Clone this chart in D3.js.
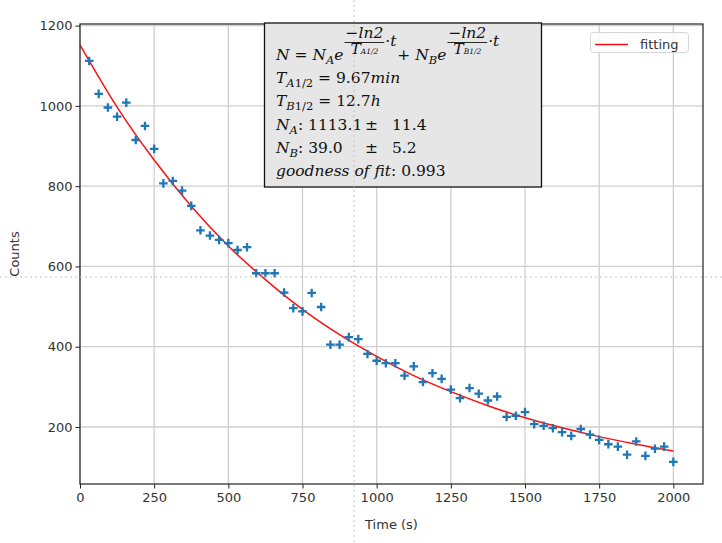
<!DOCTYPE html>
<html>
<head>
<meta charset="utf-8">
<script src="https://cdn.jsdelivr.net/npm/d3@7"></script>
<style>
    body { margin: 0; background: #fff; }
    svg { display: block; }
    .axis text { font-family: 'DejaVu Sans', sans-serif; font-size: 13px; fill: #333; }
    .axis line { stroke: #222; }
    .axis-title { font-family: 'DejaVu Sans', sans-serif; font-size: 13px; fill: #333; }
    .box-text { font-family: 'DejaVu Serif', serif; font-size: 15.5px; fill: #111; }
</style>
</head>
<body>
<div id="chart"></div>
<script>
// measured points (time in s, counts)
const times = [31, 63, 94, 125, 156, 188, 219, 250, 281, 313, 344, 375, 406, 438, 469, 500,
    531, 563, 594, 625, 656, 688, 719, 750, 781, 813, 844, 875, 906, 938, 969, 1000,
    1031, 1063, 1094, 1125, 1156, 1188, 1219, 1250, 1281, 1313, 1344, 1375, 1406, 1438, 1469, 1500,
    1531, 1563, 1594, 1625, 1656, 1688, 1719, 1750, 1781, 1813, 1844, 1875, 1906, 1938, 1969, 2000];
const counts = [1112, 1030, 996, 973, 1008, 915, 950, 893, 807, 813, 789, 751, 690, 677, 666, 658,
    641, 648, 583, 583, 583, 535, 496, 488, 534, 499, 405, 405, 424, 419, 382, 365,
    359, 359, 328, 351, 312, 334, 320, 293, 272, 297, 283, 266, 276, 225, 228, 237,
    207, 203, 197, 187, 178, 195, 181, 168, 157, 151, 131, 164, 128, 146, 151, 113];

// fitted curve
const fitTimes = [0, 125, 250, 375, 500, 625, 750, 875, 1000, 1125, 1250, 1375, 1500, 1625, 1750, 1875, 2000];
const fitCounts = [1152, 997, 865, 750, 651, 567, 493, 430, 376, 328, 288, 253, 223, 198, 176, 157, 140];

const xTicks = [0, 250, 500, 750, 1000, 1250, 1500, 1750, 2000];
const yTicks = [200, 400, 600, 800, 1000, 1200];

const width = 722;
const height = 543;
const margin = {top: 24, right: 19, bottom: 59, left: 80};

const svg = d3.select('#chart').append('svg')
    .attr('width', width)
    .attr('height', height);

const xScale = d3.scaleLinear()
    .domain([0, 2100])
    .range([margin.left, width - margin.right]);

const yScale = d3.scaleLinear()
    .domain([58, 1204])
    .range([height - margin.bottom, margin.top]);

// grid
const grid = svg.append('g');
grid.selectAll('.gx')
    .data(xTicks)
    .join('line')
    .attr('x1', d => xScale(d)).attr('x2', d => xScale(d))
    .attr('y1', margin.top).attr('y2', height - margin.bottom)
    .attr('stroke', '#cfcfcf').attr('stroke-width', 1.3);
grid.selectAll('.gy')
    .data(yTicks)
    .join('line')
    .attr('x1', margin.left).attr('x2', width - margin.right)
    .attr('y1', d => yScale(d)).attr('y2', d => yScale(d))
    .attr('stroke', '#cfcfcf').attr('stroke-width', 1.3);

// fitted line
const line = d3.line()
    .x((d, i) => xScale(fitTimes[i]))
    .y(d => yScale(d))
    .curve(d3.curveMonotoneX);

svg.append('path')
    .datum(fitCounts)
    .attr('d', line)
    .attr('fill', 'none')
    .attr('stroke', '#ff1010')
    .attr('stroke-width', 1.5);

// data markers
const arm = 4.3;
const points = svg.append('g')
    .attr('stroke', '#1f77b4')
    .attr('stroke-width', 2.3);
points.selectAll('path')
    .data(times.map((t, i) => ({t: t, c: counts[i]})))
    .join('path')
    .attr('d', d => {
        const px = xScale(d.t), py = yScale(d.c);
        return `M${px - arm},${py}H${px + arm}M${px},${py - arm}V${py + arm}`;
    });

// axes
const xAxis = d3.axisBottom(xScale)
    .tickValues(xTicks)
    .tickFormat(d3.format('d'))
    .tickSize(4.5)
    .tickSizeOuter(0)
    .tickPadding(4);
const yAxis = d3.axisLeft(yScale)
    .tickValues(yTicks)
    .tickFormat(d3.format('d'))
    .tickSize(4.5)
    .tickSizeOuter(0)
    .tickPadding(3);

svg.append('g')
    .attr('class', 'axis')
    .attr('transform', `translate(0,${height - margin.bottom})`)
    .call(xAxis)
    .call(g => g.select('.domain').remove());
svg.append('g')
    .attr('class', 'axis')
    .attr('transform', `translate(${margin.left},0)`)
    .call(yAxis)
    .call(g => g.select('.domain').remove());

svg.append('rect')
    .attr('x', margin.left)
    .attr('y', margin.top)
    .attr('width', width - margin.left - margin.right)
    .attr('height', height - margin.top - margin.bottom)
    .attr('fill', 'none')
    .attr('stroke', '#222')
    .attr('stroke-width', 1.2);

svg.append('text')
    .attr('class', 'axis-title')
    .attr('x', (margin.left + width - margin.right) / 2)
    .attr('y', 529)
    .attr('text-anchor', 'middle')
    .text('Time (s)');

svg.append('text')
    .attr('class', 'axis-title')
    .attr('transform', `translate(19,${(margin.top + height - margin.bottom) / 2}) rotate(-90)`)
    .attr('text-anchor', 'middle')
    .text('Counts');

// annotation box
svg.append('rect')
    .attr('x', 264.5)
    .attr('y', 23)
    .attr('width', 277)
    .attr('height', 164)
    .attr('fill', '#e6e6e6')
    .attr('stroke', '#111')
    .attr('stroke-width', 1.3);

const tx = 276;

// segments: [text, style] where style has i (italic) and s (subscript)
function writeLine(x, y, segs) {
    const t = svg.append('text')
        .attr('class', 'box-text')
        .attr('x', x)
        .attr('y', y);
    let shift = 0;
    segs.forEach(s => {
        const target = s[1].includes('s') ? 4 : 0;
        t.append('tspan')
            .attr('dy', target - shift)
            .attr('font-style', s[1].includes('i') ? 'italic' : 'normal')
            .attr('font-size', s[1].includes('s') ? '11.5px' : null)
            .text(s[0]);
        shift = target;
    });
    return x + t.node().getComputedTextLength();
}

function writeExponent(x, y, sub) {
    const top = svg.append('text')
        .attr('class', 'box-text')
        .attr('y', y - 22.5)
        .attr('font-size', '9.5px')
        .attr('font-style', 'italic')
        .attr('text-anchor', 'middle')
        .text('\u2212ln2');
    const bot = svg.append('text')
        .attr('class', 'box-text')
        .attr('y', y - 6)
        .attr('font-size', '9.5px')
        .attr('font-style', 'italic')
        .attr('text-anchor', 'middle');
    bot.append('tspan').text('T');
    bot.append('tspan').attr('font-size', '7.5px').text(sub + '1/2');
    const w = Math.max(top.node().getComputedTextLength(), bot.node().getComputedTextLength()) + 2;
    top.attr('x', x + w / 2);
    bot.attr('x', x + w / 2);
    svg.append('line')
        .attr('x1', x).attr('x2', x + w)
        .attr('y1', y - 17.5).attr('y2', y - 17.5)
        .attr('stroke', '#111').attr('stroke-width', 0.9);
    svg.append('text')
        .attr('class', 'box-text')
        .attr('x', x + w + 1)
        .attr('y', y - 14)
        .attr('font-size', '10px')
        .attr('font-style', 'italic')
        .text('\u00b7t');
    return x + w + 10;
}

let cx = writeLine(tx, 60, [['N', 'i'], [' = ', ''], ['N', 'i'], ['A', 'is'], ['e', 'i']]);
cx = writeExponent(cx + 1, 60, 'A');
cx = writeLine(cx + 3, 60, [['+ ', ''], ['N', 'i'], ['B', 'is'], ['e', 'i']]);
writeExponent(cx + 1, 60, 'B');

writeLine(tx, 83, [['T', 'i'], ['A', 'is'], ['1/2', 's'], [' = 9.67', ''], ['min', 'i']]);
writeLine(tx, 106, [['T', 'i'], ['B', 'is'], ['1/2', 's'], [' = 12.7', ''], ['h', 'i']]);
writeLine(tx, 130, [['N', 'i'], ['A', 'is'], [': 1113.1', '']]);
writeLine(tx, 153, [['N', 'i'], ['B', 'is'], [': 39.0', '']]);
writeLine(tx, 176, [['goodness of fit', 'i'], [': 0.993', '']]);

// plus-minus column
writeLine(365, 130, [['\u00b1', '']]);
writeLine(365, 153, [['\u00b1', '']]);
writeLine(392, 130, [['11.4', '']]);
writeLine(392, 153, [['5.2', '']]);

// legend
const legend = svg.append('g');
legend.append('rect')
    .attr('x', 590.5)
    .attr('y', 32.5)
    .attr('width', 98)
    .attr('height', 20)
    .attr('rx', 3)
    .attr('fill', '#fff')
    .attr('fill-opacity', 0.8)
    .attr('stroke', '#d6d6d6');
legend.append('line')
    .attr('x1', 595).attr('x2', 628)
    .attr('y1', 44.5).attr('y2', 44.5)
    .attr('stroke', '#ff1010')
    .attr('stroke-width', 1.5);
legend.append('text')
    .attr('class', 'axis-title')
    .attr('x', 640)
    .attr('y', 49)
    .attr('font-size', '12.5px')
    .text('fitting');

// dotted crosshair overlay from the original image
svg.append('line')
    .attr('x1', 354).attr('x2', 354)
    .attr('y1', 0).attr('y2', height)
    .attr('stroke', '#c4c4c4')
    .attr('stroke-dasharray', '2,3');
svg.append('line')
    .attr('x1', 0).attr('x2', width)
    .attr('y1', 277).attr('y2', 277)
    .attr('stroke', '#c4c4c4')
    .attr('stroke-dasharray', '2,3');
</script>
</body>
</html>
